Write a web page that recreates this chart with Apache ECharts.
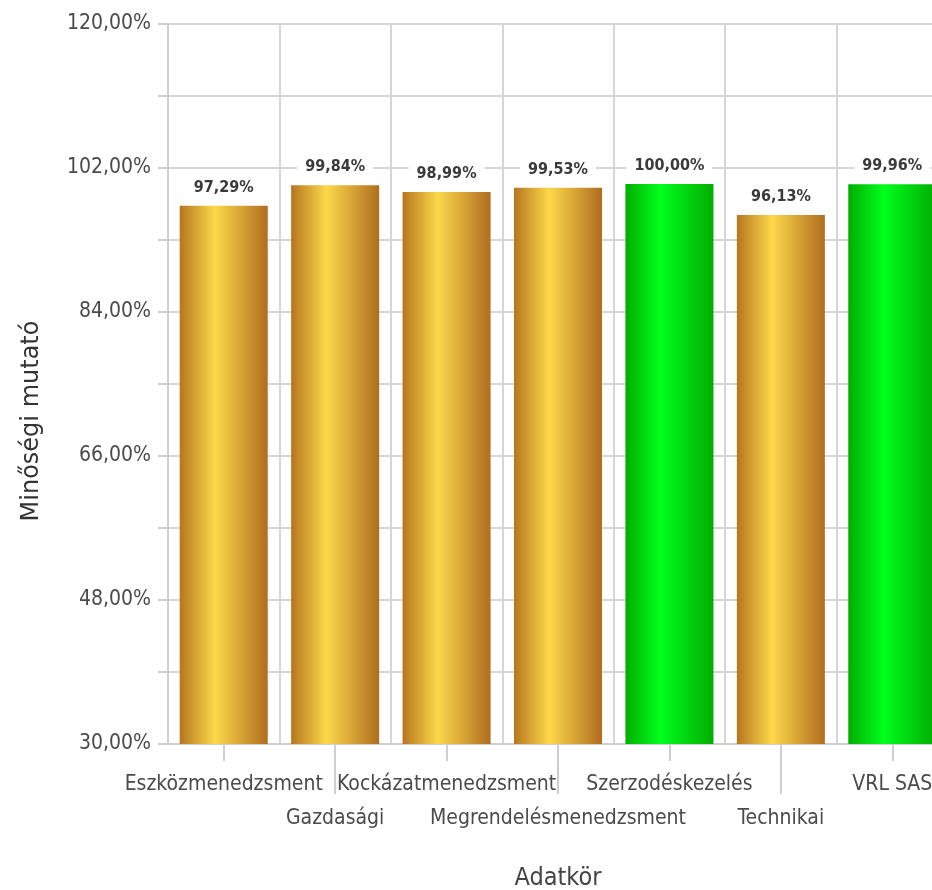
<!DOCTYPE html>
<html>
<head>
<meta charset="utf-8">
<script src="https://cdn.jsdelivr.net/npm/echarts@6/dist/echarts.min.js"></script>
<style>
  html, body { margin: 0; padding: 0; background: #fff; }
  #chart { width: 932px; height: 890px; }
</style>
</head>
<body>
<div id="chart"></div>
<script>
// adatok
const categories = ['Eszközmenedzsment', 'Gazdasági', 'Kockázatmenedzsment', 'Megrendelésmenedzsment', 'Szerzodéskezelés', 'Technikai', 'VRL SAS'];
const values = [97.29, 99.84, 98.99, 99.53, 100.00, 96.13, 99.96];
const greenCategories = ['Szerzodéskezelés', 'VRL SAS'];

const narrow = "'DejaVu Sans Condensed', 'Liberation Sans Narrow', sans-serif";
const pct = (v) => v.toFixed(2).replace('.', ',') + '%';

const goldFill = new echarts.graphic.LinearGradient(0, 0, 1, 0, [
  {offset: 0, color: '#b5761f'},
  {offset: 0.4, color: '#fdd84a'},
  {offset: 1, color: '#b06d1f'},
]);
const greenFill = new echarts.graphic.LinearGradient(0, 0, 1, 0, [
  {offset: 0, color: '#00ad00'},
  {offset: 0.4, color: '#00ff1e'},
  {offset: 1, color: '#00ad00'},
]);

const barData = values.map((v, i) => ({
  value: v,
  itemStyle: {color: greenCategories.includes(categories[i]) ? greenFill : goldFill},
}));

const chart = echarts.init(document.getElementById('chart'));
chart.setOption({
  animation: false,
  grid: {
    left: 168,
    width: 780,
    top: 24,
    bottom: 146,
    outerBoundsMode: 'none',
  },
  xAxis: [{
    type: 'category',
    data: categories,
    position: 'bottom',
    name: 'Adatkör',
    nameLocation: 'middle',
    nameGap: 122,
    nameTextStyle: {
      fontFamily: narrow,
      fontSize: 25,
      color: '#444',
    },
    axisLine: {lineStyle: {color: '#cfcfcf', width: 2}},
    axisTick: {
      show: true,
      alignWithLabel: true,
      interval: 0,
      length: 17,
      lineStyle: {color: '#cfcfcf', width: 2},
    },
    axisLabel: {
      interval: 0,
      margin: 24,
      lineHeight: 34,
      fontFamily: narrow,
      fontSize: 21,
      color: '#4a4a4a',
      formatter: (v, i) => (i % 2 ? '\n' + v : v),
    },
    splitLine: {
      show: true,
      interval: 0,
      lineStyle: {color: '#d6d6d6', width: 2},
    },
  }, {
    // hosszabb osztásjelek a második sorhoz
    type: 'category',
    data: categories,
    position: 'bottom',
    offset: 0,
    axisLine: {show: false},
    axisLabel: {show: false},
    splitLine: {show: false},
    axisTick: {
      show: true,
      alignWithLabel: true,
      length: 50,
      interval: (i) => i % 2 === 1,
      lineStyle: {color: '#cfcfcf', width: 2},
    },
  }],
  yAxis: {
    type: 'value',
    min: 30,
    max: 120,
    interval: 9,
    name: 'Minőségi mutató',
    nameLocation: 'middle',
    nameGap: 124,
    nameTextStyle: {
      fontFamily: 'DejaVu Sans',
      fontSize: 24,
      color: '#333',
      padding: [0, 74, 0, 0],
    },
    axisLine: {show: true, lineStyle: {color: '#cfcfcf', width: 2}},
    axisTick: {show: true, length: 10, lineStyle: {color: '#cfcfcf', width: 2}},
    axisLabel: {
      margin: 17,
      fontFamily: narrow,
      fontSize: 21,
      color: '#4a4a4a',
      formatter: (v) => ((v - 30) % 18 === 0 ? pct(v) : ''),
    },
    splitLine: {lineStyle: {color: '#d6d6d6', width: 2}},
  },
  series: [{
    type: 'bar',
    data: barData,
    barWidth: '79%',
    label: {
      show: true,
      position: 'top',
      distance: 8,
      fontFamily: narrow,
      fontSize: 16,
      fontWeight: 'bold',
      color: '#3a3a3a',
      backgroundColor: '#fff',
      padding: [2, 8],
      formatter: (p) => pct(p.value),
    },
  }],
});
</script>
</body>
</html>
